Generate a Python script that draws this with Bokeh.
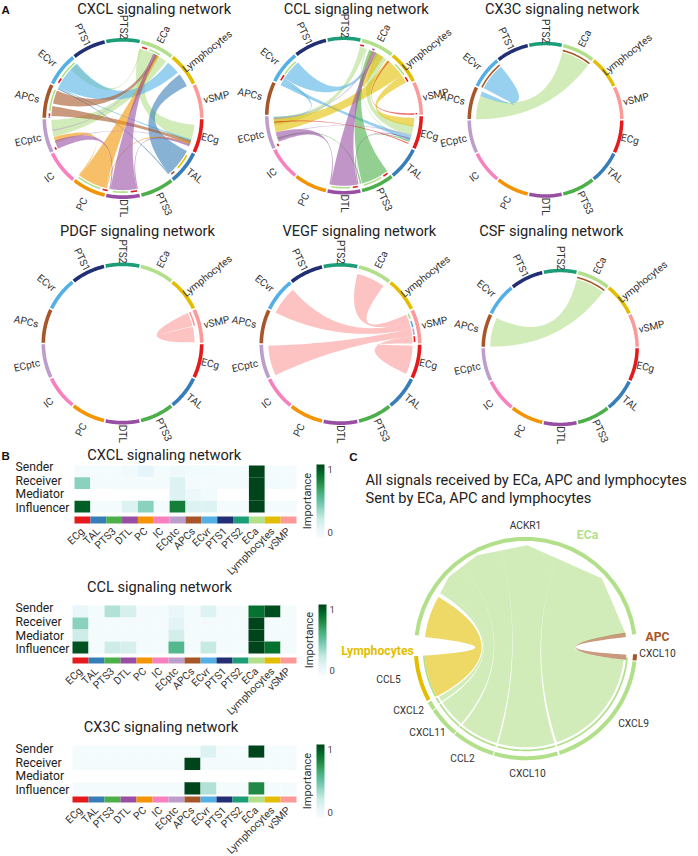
import math
import numpy as np
from bokeh.core.properties import value
from bokeh.embed import file_html
from bokeh.layouts import column, row
from bokeh.models import ColorBar, FixedTicker, LinearColorMapper, Range1d, ColumnDataSource
from bokeh.plotting import figure
from bokeh.resources import INLINE

# ---------------------------------------------------------------- data
CELLS = ["ECg", "TAL", "PTS3", "DTL", "PC", "IC", "ECptc", "APCs", "ECvr", "PTS1", "PTS2", "ECa", "Lymphocytes", "vSMP"]
COLORS = ["#E41A1C", "#377EB8", "#4DAF4A", "#984EA3", "#F29403", "#F781BF", "#BC9DCC", "#A65628", "#54B0E4", "#222F75", "#1B9E77", "#B2DF8A", "#E3BE00", "#FB9A99"]
LABEL_RADII = [1.11, 1.14, 1.18, 1.115, 1.18, 1.17, 1.21, 1.22, 1.20, 1.15, 1.136, 1.157, 1.34, 1.19]

# ribbons: (sender colour, end A from, end A to, end B from, end B to), degrees clockwise from 3 o'clock
CXCL_LINKS = [
    ("ECa", 283, 296, 5, 20), ("ECa", 296, 307, 165, 179), ("ECa", 284, 285, 223, 229),
    ("ECvr", 206, 230, 309, 320), ("ECvr", 205, 206, 17, 18.5),
    ("TAL", 27, 50, 322, 333), ("TAL", 50, 51, 204, 205),
    ("APCs", 192, 203, 296, 299), ("APCs", 182, 190, 18, 21),
    ("PC", 104, 127, 297, 300), ("PC", 103, 104, 20, 22), ("PC", 127, 128, 160, 165),
    ("DTL", 79, 100, 295, 298), ("DTL", 100, 101, 155, 162), ("DTL", 78, 79, 21, 23),
    ("ECptc", 170, 171, 296, 297), ("ECptc", 160, 161, 21, 22),
]
CXCL_STRIPS = [
    ("ECg", 285, 289), ("ECa", 291, 300), ("ECg", 209, 213), ("ECa", 214, 229), ("ECa", 186, 203),
    ("ECg", 182, 184), ("DTL", 180.5, 181.5), ("ECg", 155, 157), ("ECa", 108, 127), ("ECg", 102, 106),
    ("ECa", 86, 98), ("ECg", 79, 84), ("Lymphocytes", 30, 42), ("APCs", 46, 49),
]
CCL_LINKS = [
    ("ECa", 283, 288, 172, 179), ("ECa", 298, 307, 8, 17), ("ECa", 288, 289, 21, 22),
    ("ECvr", 212, 229, 296, 299), ("ECvr", 209, 212, 177, 179), ("ECvr", 205.5, 209, 17, 21),
    ("Lymphocytes", 325, 332, 2, 9), ("Lymphocytes", 312, 325, 166, 178), ("Lymphocytes", 308, 312, 293, 304),
    ("PTS3", 52, 75, 291, 294), ("PTS3", 75.5, 76.5, 160, 161.5), ("PTS3", 76.5, 77, 21, 22),
    ("DTL", 79, 101, 294, 297), ("DTL", 101, 102, 158, 166), ("DTL", 78, 79, 19, 20),
    ("ECptc", 177, 178, 295, 297), ("ECptc", 163, 164, 16, 17),
    ("ECg", 358, 359.5, 309, 310), ("ECg", 23, 24, 174, 175),
]
CCL_STRIPS = [
    ("ECg", 283, 286), ("DTL", 293, 295), ("ECg", 328, 332), ("ECa", 315, 326), ("ECg", 209, 214), ("ECa", 215, 228),
    ("ECg", 53, 57), ("ECa", 59, 74), ("ECg", 79, 83), ("ECa", 85, 100), ("ECg", 155, 157), ("ECg", 358, 359), ("ECa", 1, 1.5),
]
CX3C_LINKS = [("ECa", 284, 308, 180.5, 200), ("ECvr", 207, 230, 200, 204)]
CX3C_STRIPS = [("APCs", 284, 308), ("APCs", 207, 230)]
PDGF_LINKS = [("vSMP", 335, 346, 346.5, 359)]
PDGF_STRIPS = [("vSMP", 335, 346)]
VEGF_LINKS = [("vSMP", 336, 342, 283.5, 306.5), ("vSMP", 342, 348, 205.7, 228.7), ("vSMP", 348, 354, 154.3, 178.7), ("vSMP", 354, 359.5, 1.3, 24.4)]
VEGF_STRIPS = [("ECa", 336, 340), ("ECvr", 342, 347), ("ECptc", 348, 353), ("ECg", 354, 358.5)]
CSF_LINKS = [("ECa", 283.6, 307.7, 180.8, 204.8)]
CSF_STRIPS = [("APCs", 283.6, 307.7)]

PANEL_TITLES = ["CXCL signaling network", "CCL signaling network", "CX3C signaling network",
                "PDGF signaling network", "VEGF signaling network", "CSF signaling network"]
HEAT_ROWS = ["Sender", "Receiver", "Mediator", "Influencer"]
N = float("nan")
HEAT_CXCL = [
    [0, 0, 0, .03, .10, 0, .04, .02, .02, 0, 0, 1, 0, 0],
    [.40, 0, 0, 0, 0, 0, .15, 0, 0, 0, 0, 1, .02, 0],
    [N, N, N, N, N, N, .15, .05, .02, N, N, 1, N, N],
    [.92, 0, 0, .15, .40, 0, .80, .15, .15, 0, 0, 1, 0, 0],
]
HEAT_CCL = [
    [.08, 0, .30, .18, 0, 0, .08, 0, .15, 0, 0, .85, .97, 0],
    [.40, 0, 0, 0, 0, 0, .12, 0, 0, 0, 0, 1, 0, 0],
    [.22, 0, 0, 0, 0, 0, .20, 0, 0, 0, 0, 1, 0, 0],
    [.95, 0, .22, .18, 0, 0, .55, 0, .25, 0, 0, 1, .85, 0],
]
HEAT_CX3C = [
    [0, 0, 0, 0, 0, 0, 0, 0, .15, 0, 0, 1, 0, 0],
    [0, 0, 0, 0, 0, 0, 0, 1, 0, 0, 0, 0, 0, 0],
    [N, N, N, N, N, N, N, N, N, N, N, N, N, N],
    [0, 0, 0, 0, 0, 0, 0, 1, .30, 0, 0, .75, 0, 0],
]
BUGN = ["#f7fcfd", "#e5f5f9", "#ccece6", "#99d8c9", "#66c2a4", "#41ae76", "#238b45", "#006d2c", "#00441b"]

# panel C
C_LINKS = [
    ("ECa", 6.5, 71.5, 289, 351.5), ("ECa", 73, 106, 256, 289), ("ECa", 107, 129.5, 233, 256),
    ("ECa", 130.5, 147, 216, 233), ("ECa", 147.8, 150.8, 213, 216),
]
C_YELLOW = ("Lymphocytes", 151.6, 176, 186.5, 210.6)
C_BROWN = ("APCs", 3.5, 6.5, 351, 353.5)
C_TOP_ANGLES = [213, 223, 242.6, 271, 317.6, 351.5]
C_TOP_RADII = [.91, .94, .94, .925, .928, .905]
C_TRACKS = [("ECa", 187, 352.6), ("ECa", 6.8, 72), ("ECa", 73, 106.5), ("ECa", 107, 129.5), ("ECa", 130, 146),
            ("ECa", 146.5, 151), ("Lymphocytes", 152, 176), ("APCs", 3, 6.2)]
C_STRIPS = [("ECa", 5, 72), ("ECa", 73, 106), ("ECa", 107, 130), ("ECa", 130.5, 147), ("ECa", 147.5, 151), ("ECa", 152, 176)]
C_LABELS = ["ACKR1", "CXCL10", "CXCL9", "CXCL10", "CCL2", "CXCL11", "CXCL2", "CCL5"]

# ---------------------------------------------------------------- layout (reference px)
WIDTH, HEIGHT = 698, 856
TOP_H, LEFT_W = 446, 338
FONT = value("Roboto")
CENTERS = [(122.5, 118, 80.5), (343.5, 115, 79), (545, 119.3, 78), (122, 343, 81), (340, 343.5, 81), (559.7, 347, 78.7)]
TITLE_POS = [(153.7, 8), (355.8, 8), (561.7, 8), (137, 230), (358.8, 230), (550.8, 230)]
TITLE_SIZE = 14.6


def pol(cx, cy, R, t, r):
    a = math.radians(t)
    return cx + R * r * math.cos(a), cy + R * r * math.sin(a)


def arc(cx, cy, R, t1, t2, r, n=24):
    ts = np.linspace(t1, t2, n)
    return [pol(cx, cy, R, t, r)[0] for t in ts], [pol(cx, cy, R, t, r)[1] for t in ts]


def bez(p0, p1, c):
    u = np.linspace(0, 1, 40)
    x = (1 - u) ** 2 * p0[0] + 2 * u * (1 - u) * c[0] + u ** 2 * p1[0]
    y = (1 - u) ** 2 * p0[1] + 2 * u * (1 - u) * c[1] + u ** 2 * p1[1]
    return list(x), list(y)


def ribbon(cx, cy, R, a1, a2, b1, b2, r=0.89, rb=None):
    ax, ay = arc(cx, cy, R, a1, a2, r)
    bx, by = arc(cx, cy, R, b1, b2, r) if rb is None else rb
    ex, ey = bez((ax[-1], ay[-1]), (bx[0], by[0]), (cx, cy))
    fx, fy = bez((bx[-1], by[-1]), (ax[0], ay[0]), (cx, cy))
    return ax + ex + bx + fx, ay + ey + by + fy


def band(cx, cy, R, t1, t2, r1, r2):
    ox, oy = arc(cx, cy, R, t1, t2, r2)
    ix, iy = arc(cx, cy, R, t2, t1, r1)
    return ox + ix, oy + iy


col = dict(zip(CELLS, COLORS))


def draw_chord(p, center, links, strips):
    cx, cy, R = center
    xs, ys, cs = [], [], []
    for name, a1, a2, b1, b2 in links:
        x, y = ribbon(cx, cy, R, a1, a2, b1, b2)
        xs.append(x); ys.append(y); cs.append(col[name])
    p.patches(xs, ys, fill_color=cs, fill_alpha=0.6, line_color=None)
    xs, ys, cs = [], [], []
    for name, t1, t2 in strips:
        x, y = band(cx, cy, R, t1, t2, .905, .925)
        xs.append(x); ys.append(y); cs.append(col[name])
    for i, name in enumerate(CELLS):
        x, y = band(cx, cy, R, i * 360 / 14 + .6, (i + 1) * 360 / 14 - .6, .955, 1.0)
        xs.append(x); ys.append(y); cs.append(col[name])
    p.patches(xs, ys, fill_color=cs, line_color=None)
    lx, ly, la = [], [], []
    for i, name in enumerate(CELLS):
        t = (i + .5) * 360 / 14
        x, y = pol(cx, cy, R, t, LABEL_RADII[i])
        lx.append(x); ly.append(y)
        la.append(math.radians(-t) if (t < 90.5 or t > 271) else math.radians(180 - t))
    p.text(lx, ly, text=CELLS, angle=la, text_align="center", text_baseline="middle",
           text_font=FONT, text_font_size=value("10.2px"), text_color="#333333")


def txt(p, x, y, s, size, color="#222222", style="normal", align="center", font=FONT, angle=0.0):
    p.text([x], [y], text=[s], angle=angle, text_align=align, text_baseline="middle", text_font=font,
           text_font_size=value(f"{size}px"), text_font_style=style, text_color=color)


top = figure(width=WIDTH, height=TOP_H, x_range=Range1d(0, WIDTH), y_range=Range1d(TOP_H, 0), toolbar_location=None,
             output_backend="svg", min_border=0, outline_line_color=None)
top.axis.visible = False
top.grid.visible = False
for center, (links, strips) in zip(CENTERS, [(CXCL_LINKS, CXCL_STRIPS), (CCL_LINKS, CCL_STRIPS), (CX3C_LINKS, CX3C_STRIPS),
                                             (PDGF_LINKS, PDGF_STRIPS), (VEGF_LINKS, VEGF_STRIPS), (CSF_LINKS, CSF_STRIPS)]):
    draw_chord(top, center, links, strips)
for (x, y), t in zip(TITLE_POS, PANEL_TITLES):
    txt(top, x, y, t, TITLE_SIZE)
txt(top, 1, 9, "A", 11.5, "#111111", "bold", "left", value("Liberation Sans"))

# ---------------------------------------------------------------- heatmaps
ramp = np.array([[int(h[i:i + 2], 16) for i in (1, 3, 5)] for h in BUGN], float)
u = np.linspace(0, len(BUGN) - 1, 256)
PAL = ["#%02x%02x%02x" % tuple(int(round(np.interp(v, range(len(BUGN)), ramp[:, k]))) for k in range(3)) for v in u]


def heat(matrix, title, box_top, box_bot, fx0, fx1, cell_top, cell_bot, strip_top, strip_bot, bar, title_pos, row_y):
    cw = (fx1 - fx0) / 14
    cellh = (cell_bot - cell_top) / 4
    X = lambda px: (px - fx0) / cw
    Y = lambda py: (cell_bot - py) / cellh
    p = figure(width=LEFT_W, height=box_bot - box_top, x_range=Range1d(X(0), X(LEFT_W)), y_range=Range1d(Y(box_bot), Y(box_top)),
               toolbar_location=None, output_backend="svg", outline_line_color=None, min_border=0)
    p.grid.visible = False
    p.yaxis.visible = False
    ax = p.xaxis[0]
    ax.fixed_location = Y(strip_bot)
    ticks = [j + .5 for j in range(14)]
    ax.ticker = FixedTicker(ticks=ticks)
    ax.major_label_overrides = {t: c for t, c in zip(ticks, CELLS)}
    ax.axis_line_color = None
    ax.major_tick_line_color = None
    ax.minor_tick_line_color = None
    ax.major_label_orientation = math.pi / 4
    ax.major_label_standoff = 0
    ax.major_label_text_font = "Roboto"
    ax.major_label_text_font_size = "10.5px"
    ax.major_label_text_color = "#333333"
    mapper = LinearColorMapper(palette=PAL, low=-0.02, high=1.0, nan_color="#ffffff")
    xs, ys, vs = [], [], []
    for i, r in enumerate(matrix):
        for j, v in enumerate(r):
            xs.append(j + .5); ys.append(3.5 - i); vs.append(v)
    p.rect(x="x", y="y", width=1, height=1, source=ColumnDataSource(dict(x=xs, y=ys, v=vs)),
           fill_color={"field": "v", "transform": mapper}, line_color=None)
    s0, s1 = Y(strip_top), Y(strip_bot)
    p.rect(x=ticks, y=[(s0 + s1) / 2] * 14, width=1, height=s0 - s1, fill_color=COLORS, line_color=None)
    txt(p, X(title_pos[0]), Y(title_pos[1]), title, TITLE_SIZE)
    for r, ry in zip(HEAT_ROWS, row_y):
        txt(p, X(15), Y(ry), r, 12.2, align="left")
    bx0, bx1, by0, by1 = bar
    cm2 = LinearColorMapper(palette=PAL, low=-0.08, high=1.08)
    cb = ColorBar(color_mapper=cm2, ticker=FixedTicker(ticks=[0, 1]), width=bx1 - bx0, height=by1 - by0,
                  location=(bx0, box_bot - by1), padding=0, margin=0,
                  major_tick_line_color=None, bar_line_color=None, border_line_color=None, background_fill_alpha=0,
                  major_label_text_font="Roboto", major_label_text_font_size="9.5px", label_standoff=3)
    p.add_layout(cb, "center")
    txt(p, X(bx0 - 9.5), Y((by0 + by1) / 2), "Importance", 11, "#333333", angle=math.pi / 2)
    return p, X, Y


h1, X1, Y1 = heat(HEAT_CXCL, "CXCL signaling network", TOP_H, 578, 74, 296, 465, 512, 516, 523, (316, 324, 464, 537), (163.7, 454),
                  (466.7, 480, 493.5, 507))
h2, _, _ = heat(HEAT_CCL, "CCL signaling network", 578, 717, 72, 296, 605, 653, 657, 663, (318, 326, 604, 675), (159, 586),
                (607.3, 621.3, 635, 648.3))
h3, _, _ = heat(HEAT_CX3C, "CX3C signaling network", 717, HEIGHT, 72, 296, 745, 794, 796, 802, (316, 324, 744, 817), (160.5, 726),
                (748, 762, 775.5, 789))
txt(h1, X1(1), Y1(455), "B", 11.5, "#111111", "bold", "left", value("Liberation Sans"))

# ---------------------------------------------------------------- panel C
CX, CY, CR = 525, 648, 111.7
pc = figure(width=WIDTH - LEFT_W, height=HEIGHT - TOP_H, x_range=Range1d(LEFT_W, WIDTH), y_range=Range1d(HEIGHT, TOP_H),
            toolbar_location=None, output_backend="svg", min_border=0, outline_line_color=None)
pc.axis.visible = False
pc.grid.visible = False


def top_end(t1, t2):
    def rad(t):
        for k in range(len(C_TOP_ANGLES) - 1):
            th1, th2 = C_TOP_ANGLES[k], C_TOP_ANGLES[k + 1]
            if th1 <= t <= th2:
                r1, r2 = C_TOP_RADII[k], C_TOP_RADII[k + 1]
                d1, d2 = math.radians(t - th1), math.radians(th2 - t)
                return r1 * r2 * math.sin(d1 + d2) / (r1 * math.sin(d1) + r2 * math.sin(d2))
        return C_TOP_RADII[-1]
    ts = [t1] + [t for t in C_TOP_ANGLES if t1 < t < t2] + [t2]
    pts = [pol(CX, CY, CR, t, rad(t)) for t in ts]
    return [q[0] for q in pts], [q[1] for q in pts]


xs, ys, cs = [], [], []
for name, a1, a2, b1, b2 in C_LINKS:
    x, y = ribbon(CX, CY, CR, a1, a2, b1, b2, r=.885, rb=top_end(b1, b2))
    xs.append(x); ys.append(y); cs.append(col[name])
for name, a1, a2, b1, b2 in (C_YELLOW, C_BROWN):
    x, y = ribbon(CX, CY, CR, a1, a2, b1, b2, r=.905)
    xs.append(x); ys.append(y); cs.append(col[name])
pc.patches(xs, ys, fill_color=cs, fill_alpha=0.6, line_color=None)
xs, ys, cs = [], [], []
for name, t1, t2 in C_TRACKS:
    x, y = band(CX, CY, CR, t1, t2, .964, 1.0)
    xs.append(x); ys.append(y); cs.append(col[name])
for name, t1, t2 in C_STRIPS:
    x, y = band(CX, CY, CR, t1, t2, .905, .92)
    xs.append(x); ys.append(y); cs.append(col[name])
pc.patches(xs, ys, fill_color=cs, line_color=None)
for s, x, y in zip(C_LABELS, [525, 657, 633, 527, 462, 427, 408, 388], [525, 653, 723, 773, 758, 732, 710, 679]):
    txt(pc, x, y, s, 10.2, "#333333")
txt(pc, 587, 534, "ECa", 12.2, "#B2DF8A", "bold")
txt(pc, 657, 636, "APC", 12.2, "#A65628", "bold")
txt(pc, 377, 650, "Lymphocytes", 12.2, "#E3BE00", "bold")
txt(pc, 353, 456, "C", 11.5, "#111111", "bold", "center", value("Liberation Sans"))
txt(pc, 365, 479, "All signals received by ECa, APC and lymphocytes", 14.6, align="left")
txt(pc, 365, 497, "Sent by ECa, APC and lymphocytes", 14.6, align="left")

layout = column(top, row(column(h1, h2, h3, spacing=0), pc, spacing=0), spacing=0)
open("out.html", "w").write(file_html(layout, INLINE))
